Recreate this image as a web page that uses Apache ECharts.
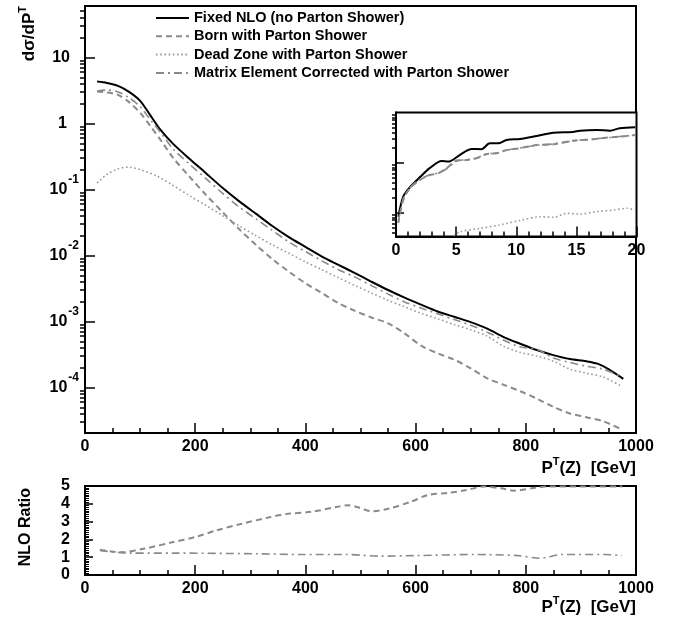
<!DOCTYPE html>
<html><head><meta charset="utf-8">
<script src="https://cdn.jsdelivr.net/npm/echarts@6/dist/echarts.min.js"></script>
<style>html,body{margin:0;padding:0;background:#fff}#c{width:677px;height:624px}</style>
</head><body><div id="c"></div>
<script>
// ---------- data ----------
const seriesNames = ['Fixed NLO (no Parton Shower)', 'Born with Parton Shower', 'Dead Zone with Parton Shower', 'Matrix Element Corrected with Parton Shower'];

// main panel: [pT (GeV), dsigma/dpT]
const nloMain = [[22,4.3],[40,4.1],[60,3.7],[80,3.0],[100,2.2],[118,1.35],[136,0.82],[160,0.49],[190,0.29],[220,0.175],[250,0.105],[280,0.066],[310,0.043],[340,0.028],[370,0.019],[400,0.0135],[430,0.0096],[460,0.0072],[490,0.0054],[520,0.0040],[550,0.0030],[580,0.0023],[610,0.0018],[640,0.00142],[670,0.00118],[700,0.00098],[730,0.00078],[760,0.00058],[790,0.00046],[820,0.00037],[850,0.00031],[880,0.00027],[910,0.00025],[930,0.00023],[950,0.00019],[977,0.000135]];
const bornMain = [[22,3.05],[40,2.95],[60,2.7],[80,2.1],[100,1.45],[120,0.88],[140,0.52],[160,0.30],[190,0.155],[220,0.082],[250,0.045],[280,0.025],[310,0.0145],[340,0.0088],[370,0.0057],[400,0.0038],[430,0.0027],[460,0.0019],[490,0.00145],[520,0.00115],[550,0.00094],[580,0.00066],[610,0.00043],[640,0.00033],[670,0.000265],[700,0.000195],[730,0.000138],[760,0.00011],[790,0.000088],[820,0.000068],[850,0.000051],[880,0.0000405],[910,0.0000355],[940,0.000031],[975,0.000023]];
const deadMain = [[22,0.125],[40,0.17],[60,0.205],[78,0.218],[100,0.20],[130,0.16],[160,0.115],[190,0.080],[220,0.057],[250,0.040],[280,0.028],[310,0.020],[340,0.0145],[370,0.0108],[400,0.0080],[430,0.0061],[460,0.0046],[490,0.0035],[520,0.0027],[550,0.0021],[580,0.00167],[610,0.00133],[640,0.00110],[670,0.00090],[700,0.00075],[730,0.00060],[760,0.00042],[790,0.00034],[820,0.00030],[850,0.00025],[880,0.00019],[910,0.000165],[940,0.000145],[975,0.000103]];
const meMain = [[22,3.1],[40,3.2],[60,3.0],[80,2.45],[100,1.8],[120,1.1],[140,0.68],[160,0.41],[190,0.24],[220,0.145],[250,0.087],[280,0.054],[310,0.036],[340,0.024],[370,0.016],[400,0.0115],[430,0.0083],[460,0.0061],[490,0.0047],[520,0.0035],[550,0.0026],[580,0.00198],[610,0.0016],[640,0.00131],[670,0.00107],[700,0.00088],[730,0.00069],[760,0.00052],[790,0.00041],[820,0.00038],[850,0.00028],[880,0.00024],[910,0.00021],[940,0.00019],[975,0.000143]];

// inset panel (0-20 GeV)
const nloInset = [[0.2,0.082],[0.6,0.207],[1.16,0.32],[2.0,0.51],[2.8,0.77],[3.8,1.07],[4.35,1.04],[5.3,1.41],[6.3,1.86],[7.1,1.84],[7.8,2.42],[8.5,2.42],[9.2,2.82],[10.3,2.95],[11.7,3.39],[13.1,3.94],[14.7,4.07],[15.3,4.33],[16.7,4.47],[17.8,4.33],[18.6,4.83],[19.9,5.06]];
const bornInset = [[0.19,0.061],[0.61,0.178],[1.16,0.305],[2.0,0.447],[2.83,0.562],[3.52,0.608],[4.21,0.766],[5.04,1.09],[5.87,1.12],[6.7,1.21],[7.54,1.48],[8.37,1.53],[9.2,1.78],[10.3,1.92],[11.7,2.24],[13.1,2.31],[14.7,2.73],[16.4,2.91],[17.8,3.19],[18.6,3.28],[19.9,3.55]];
const deadInset = [[4.8,0.034],[5.3,0.041],[6.98,0.048],[8.6,0.056],[10.3,0.069],[12.0,0.082],[13.1,0.080],[14.2,0.096],[15.3,0.093],[16.7,0.104],[18.1,0.112],[19.2,0.121],[19.9,0.112]];
const meInset = [[0.19,0.065],[0.61,0.19],[1.16,0.31],[2.0,0.46],[2.83,0.57],[3.52,0.62],[4.21,0.75],[5.04,1.07],[5.87,1.13],[6.7,1.23],[7.54,1.46],[8.37,1.55],[9.2,1.76],[10.3,1.95],[11.7,2.2],[13.1,2.35],[14.7,2.7],[16.4,2.95],[17.8,3.15],[18.6,3.3],[19.9,3.5]];

// ratio panel
const bornRatio = [[27,1.42],[66,1.28],[106,1.47],[160,1.85],[200,2.13],[239,2.51],[286,2.89],[333,3.23],[364,3.42],[411,3.55],[458,3.83],[477,3.92],[497,3.79],[520,3.58],[552,3.74],[591,4.11],[622,4.49],[661,4.62],[692,4.77],[724,4.97],[755,4.87],[778,4.74],[818,4.9],[841,4.97],[900,4.97],[975,4.97]];
const meRatio = [[27,1.38],[82,1.23],[160,1.23],[317,1.19],[395,1.15],[473,1.15],[536,1.06],[599,1.09],[708,1.15],[786,1.09],[825,0.94],[865,1.15],[943,1.15],[974,1.09]];

// tick labels
const xTicksMain = [0,200,400,600,800,1000];
const xTicksInset = [0,5,10,15,20];
const yMajorMain = [1e-4,1e-3,1e-2,1e-1,1,10];
const yMajorInset = [0.1,1];
const ratioTicks = [0,1,2,3,4,5];

// ---------- styling ----------
const F = '"Liberation Sans", Arial, Helvetica, sans-serif';
const black = '#000';
function minorLog(lo, hi){ const out=[]; for(let d=-6; d<=2; d++){ for(let m=2;m<=9;m++){ const v=m*Math.pow(10,d); if(v>lo && v<hi) out.push(v);} } return out; }

const lbl = {fontSize:16, fontWeight:'bold', color:black, fontFamily:F};
function logFmt(v){
  const e = Math.round(Math.log10(v));
  if (e === 1) return '{b|10}{p1| }';
  if (e === 0) return '{b|1}{p2| }';
  return '{b|10}{e|' + e + '}';
}
const logRich = {
  b:{fontSize:16, fontWeight:'bold', color:black, fontFamily:F, lineHeight:32},
  e:{fontSize:12, fontWeight:'bold', color:black, fontFamily:F, lineHeight:12, padding:[0,0,20,1]},
  p1:{width:9, lineHeight:32},
  p2:{width:12, lineHeight:32}
};

function xAxisDef(grid, max, interval, split, ticks){
  return {type:'value', gridIndex:grid, min:0, max:max, interval:interval,
    axisLine:{show:true, onZero:false, lineStyle:{color:black, width:2}},
    axisTick:{inside:true, length:10, lineStyle:{color:black, width:1.5}},
    minorTick:{show:true, splitNumber:split, length:5, lineStyle:{color:black, width:1.5}},
    splitLine:{show:false}, minorSplitLine:{show:false},
    axisLabel:Object.assign({margin:6, customValues:ticks, formatter:function(v){return String(v);}}, lbl)};
}
function logAxisMajor(grid, min, max, ticks, showLabels, len){
  return {type:'log', logBase:10, gridIndex:grid, min:min, max:max,
    axisLine:{show:true, onZero:false, lineStyle:{color:black, width:2}},
    axisTick:{inside:true, length:len, customValues:ticks, lineStyle:{color:black, width:1.5}},
    axisLabel:showLabels ? {show:true, customValues:ticks, formatter:logFmt, rich:logRich, margin:6} : {show:false},
    splitLine:{show:false}};
}
function logAxisMinor(grid, min, max, len){
  return {type:'log', logBase:10, gridIndex:grid, min:min, max:max,
    axisLine:{show:false},
    axisTick:{inside:true, length:len, customValues:minorLog(min,max), lineStyle:{color:black, width:1.5}},
    axisLabel:{show:false}, splitLine:{show:false}};
}

const solid = {color:black, width:2, type:'solid'};
const dashed = {color:'#8a8a8a', width:2, type:[6,4]};
const dotted = {color:'#9a9a9a', width:1.6, type:[1.6,2.6]};
const dashdot = {color:'#8a8a8a', width:1.6, type:[8,4,2,4]};

function line(name, data, xi, yi, style){
  return {name:name, type:'line', xAxisIndex:xi, yAxisIndex:yi, data:data, symbol:'none', showSymbol:false,
    smooth:0.3, lineStyle:style, itemStyle:{color:style.color}, silent:true, clip:true};
}

const sup = {fontSize:11, fontWeight:'bold', fontFamily:F, fill:black, lineHeight:11, padding:[0,0,12,0]};
const big = {fontSize:17, fontWeight:'bold', fontFamily:F, fill:black, lineHeight:24};

const option = {
  animation:false,
  backgroundColor:'#fff',
  grid:[
    {left:85, top:6, width:551, height:427, show:true, borderColor:black, borderWidth:2, backgroundColor:'transparent'},
    {left:396, top:112.5, width:240.5, height:124, show:true, borderColor:black, borderWidth:2, backgroundColor:'#fff'},
    {left:85, top:486, width:551, height:89, show:true, borderColor:black, borderWidth:2, backgroundColor:'transparent'}
  ],
  legend:{
    data:seriesNames, orient:'vertical', left:155, top:10.5, padding:0, itemWidth:33, itemHeight:14, itemGap:3.3,
    selectedMode:false, itemStyle:{opacity:0, borderWidth:0},
    textStyle:{fontSize:14.5, fontWeight:'bold', color:black, fontFamily:F, lineHeight:14}
  },
  xAxis:[ xAxisDef(0,1000,200,4,xTicksMain), xAxisDef(1,20,5,5,xTicksInset), xAxisDef(2,1000,200,4,xTicksMain) ],
  yAxis:[
    logAxisMajor(0, 2.05e-5, 60, yMajorMain, true, 10),
    logAxisMinor(0, 2.05e-5, 60, 5),
    logAxisMajor(1, 0.033, 10, yMajorInset, false, 8),
    logAxisMinor(1, 0.033, 10, 4),
    {type:'value', gridIndex:2, min:0, max:5, interval:1,
      axisLine:{show:true, onZero:false, lineStyle:{color:black, width:2}},
      axisTick:{inside:true, length:8, lineStyle:{color:black, width:1.5}},
      minorTick:{show:true, splitNumber:10, length:4, lineStyle:{color:black, width:1}},
      splitLine:{show:false}, minorSplitLine:{show:false},
      axisLabel:Object.assign({margin:15, customValues:ratioTicks, formatter:function(v){return String(v);}}, lbl)}
  ],
  series:[
    line(seriesNames[0], nloMain, 0, 0, solid),
    line(seriesNames[1], bornMain, 0, 0, dashed),
    line(seriesNames[2], deadMain, 0, 0, dotted),
    line(seriesNames[3], meMain, 0, 0, dashdot),
    line(seriesNames[0], nloInset, 1, 2, solid),
    line(seriesNames[1], bornInset, 1, 2, dashed),
    line(seriesNames[2], deadInset, 1, 2, dotted),
    line(seriesNames[3], meInset, 1, 2, dashdot),
    line(seriesNames[1], bornRatio, 2, 4, dashed),
    line(seriesNames[3], meRatio, 2, 4, dashdot)
  ],
  graphic:[
    {type:'text', x:636, y:468, z:10, style:{text:'{b|P}{s|T}{b|(Z)  [GeV]}', align:'right', verticalAlign:'middle', rich:{b:big, s:sup}}},
    {type:'text', x:636, y:607, z:10, style:{text:'{b|P}{s|T}{b|(Z)  [GeV]}', align:'right', verticalAlign:'middle', rich:{b:big, s:sup}}},
    {type:'text', x:29, y:6, rotation:Math.PI/2, z:10, style:{text:'{b|dσ/dP}{s|T}', align:'right', verticalAlign:'middle', rich:{b:{fontSize:17, fontWeight:'bold', fontFamily:F, fill:black, lineHeight:24}, s:sup}}},
    {type:'text', x:26, y:488, rotation:Math.PI/2, z:10, style:{text:'NLO Ratio', align:'right', verticalAlign:'middle', fontSize:16, fontWeight:'bold', fontFamily:F, fill:black}}
  ]
};

const chart = echarts.init(document.getElementById('c'), null, {renderer:'canvas'});
chart.setOption(option);
</script>
</body></html>
